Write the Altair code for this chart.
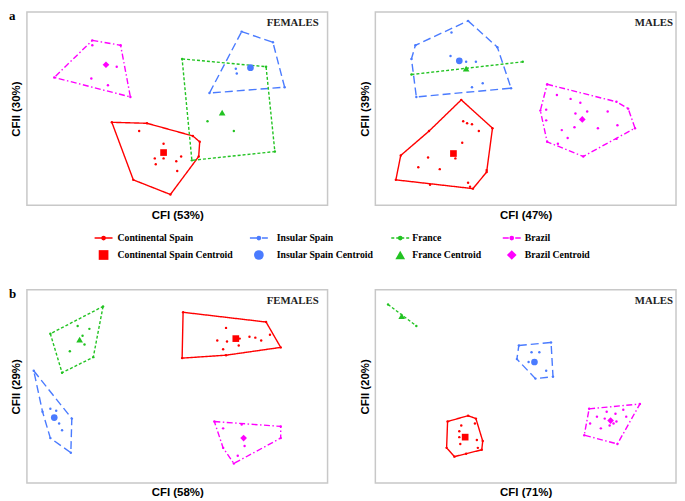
import altair as alt
import pandas as pd

GROUPS = ["Continental Spain", "Insular Spain", "France", "Brazil"]
COLORS = ["#ff0000", "#4a7bff", "#22c322", "#ff00ff"]
DASHES = [[1, 0], [8, 4], [3, 2], [6, 2.5, 1.5, 2.5]]
SHAPES = ["square", "circle", "triangle-up", "diamond"]

# ---- Panel a, FEMALES (CFI 53%, CFII 30%) ----
AF_CS_HULL = [(87, 113), (123, 114), (170, 127), (177, 133), (176, 148), (147, 187), (109, 172)]
AF_CS_PTS = [(115, 122), (140, 135), (158, 148), (131, 150), (140, 150), (153, 153), (132, 156), (154, 163)]
AF_CS_CEN = (140, 144)
AF_IS_HULL = [(220, 20), (252, 31), (264, 77), (187, 83)]
AF_IS_PTS = [(214, 58), (215, 63)]
AF_IS_CEN = (229, 57)
AF_FR_HULL = [(159, 48), (245, 56), (254, 143), (169, 152)]
AF_FR_PTS = [(185, 112), (212, 122)]
AF_FR_CEN = (200, 103)
AF_BR_HULL = [(67, 29), (96, 34), (106, 87), (28, 67)]
AF_BR_PTS = [(67, 34), (92, 56), (66, 68), (83, 75)]
AF_BR_CEN = (81, 54)

# ---- Panel a, MALES (CFI 47%, CFII 39%) ----
AM_CS_HULL = [(88, 90), (120, 119), (114, 164), (100, 181), (21, 172), (26, 147), (55, 122)]
AM_CS_PTS = [(90, 112), (94, 114), (99, 115), (106, 122), (89, 134), (54, 149), (82, 150), (44, 159),
             (66, 161), (95, 175), (97, 179), (56, 177), (114, 162)]
AM_CS_CEN = (80, 145)
AM_IS_HULL = [(95, 9), (125, 36), (139, 78), (42, 87), (37, 48), (41, 34)]
AM_IS_PTS = [(78, 21), (77, 45), (93, 51), (103, 51), (110, 73), (99, 77)]
AM_IS_CEN = (86, 50)
AM_FR_HULL = [(37, 64), (151, 51)]
AM_FR_PTS = []
AM_FR_CEN = (93, 58)
AM_BR_HULL = [(176, 74), (247, 92), (259, 99), (266, 119), (213, 148), (176, 133), (169, 101)]
AM_BR_PTS = [(186, 85), (200, 89), (210, 93), (205, 104), (217, 102), (238, 102), (175, 100), (175, 111),
             (204, 118), (191, 121), (228, 119), (248, 116), (197, 129), (187, 135), (247, 130)]
AM_BR_CEN = (212, 110)

# ---- Panel b, FEMALES (CFI 58%, CFII 29%) ----
BF_CS_HULL = [(160, 23), (245, 33), (260, 59), (204, 67), (159, 70)]
BF_CS_PTS = [(204, 39), (195, 52), (205, 53), (217, 57), (201, 61), (228, 48), (234, 49), (240, 52),
             (249, 46), (218, 50)]
BF_CS_CEN = (214, 50)
BF_IS_HULL = [(7, 83), (46, 132), (45, 167), (24, 152), (16, 125)]
BF_IS_PTS = [(24, 122), (30, 124), (33, 137), (36, 144)]
BF_IS_CEN = (28, 131)
BF_FR_HULL = [(78, 17), (68, 69), (36, 85), (24, 45)]
BF_FR_PTS = [(52, 37), (64, 40), (57, 47), (59, 56), (44, 63)]
BF_FR_CEN = (54, 51)
BF_BR_HULL = [(192, 135), (260, 140), (260, 152), (212, 178), (201, 162)]
BF_BR_PTS = [(201, 142), (220, 138), (223, 160), (216, 170)]
BF_BR_CEN = (222, 152)

# ---- Panel b, MALES (CFI 71%, CFII 20%) ----
BM_CS_HULL = [(74, 135), (95, 129), (103, 132), (110, 155), (109, 164), (81, 171), (73, 162)]
BM_CS_PTS = [(88, 139), (86, 145), (86, 151), (102, 137), (104, 154), (87, 158), (105, 162), (93, 168)]
BM_CS_CEN = (92, 151)
BM_IS_HULL = [(147, 57), (180, 54), (182, 89), (164, 91), (145, 71)]
BM_IS_PTS = [(160, 64), (168, 64), (157, 74), (175, 83)]
BM_IS_CEN = (163, 74)
BM_FR_HULL = [(13, 15), (42, 37)]
BM_FR_PTS = []
BM_FR_CEN = (27, 27)
BM_BR_HULL = [(219, 122), (271, 117), (248, 158), (214, 149)]
BM_BR_PTS = [(227, 130), (237, 125), (246, 127), (254, 123), (257, 130), (235, 132), (247, 135),
             (244, 137), (240, 139), (231, 142), (220, 137)]
BM_BR_CEN = (241, 134)

LEGEND_LINE_LABELS = GROUPS
LEGEND_CEN_LABELS = [g + " Centroid" for g in GROUPS]

# ---- layout constants ----
PW, PH = 302, 194
SANS = "Liberation Sans"
SERIF = "Liberation Serif"

color_enc = alt.Color("group:N", scale=alt.Scale(domain=GROUPS, range=COLORS), legend=None)
dash_enc = alt.StrokeDash("group:N", scale=alt.Scale(domain=GROUPS, range=DASHES), legend=None)
shape_enc = alt.Shape("group:N", scale=alt.Scale(domain=GROUPS, range=SHAPES), legend=None)


def build_frames(groups):
    hull_rows, pt_rows, cen_rows = [], [], []
    for g, (hull, pts, cen) in zip(GROUPS, groups):
        verts = list(hull) + ([hull[0]] if len(hull) > 2 else [])
        for i, (x, y) in enumerate(verts):
            hull_rows.append({"group": g, "order": i, "x": x, "y": y})
        for x, y in list(hull) + list(pts):
            pt_rows.append({"group": g, "x": x, "y": y})
        cen_rows.append({"group": g, "x": cen[0], "y": cen[1]})
    return pd.DataFrame(hull_rows), pd.DataFrame(pt_rows), pd.DataFrame(cen_rows)


def panel(groups, xtitle, ytitle, sex, letter=None):
    hull_df, pts_df, cen_df = build_frames(groups)
    xs = alt.Scale(domain=[0, 308], nice=False, zero=False)
    ys = alt.Scale(domain=[0, 198], nice=False, zero=False, reverse=True)
    ax_common = dict(labels=False, ticks=False, domain=False, grid=False,
                     titleFont=SANS, titleFontSize=11.5, titleFontWeight="bold", titleColor="black")
    xenc = alt.X("x:Q", scale=xs, axis=alt.Axis(title=xtitle, titlePadding=4, **ax_common))
    yenc = alt.Y("y:Q", scale=ys, axis=alt.Axis(title=ytitle, titlePadding=5, **ax_common))

    hull = alt.Chart(hull_df).mark_line(strokeWidth=1.4).encode(
        x=xenc, y=yenc, color=color_enc, strokeDash=dash_enc, detail="group:N", order="order:Q")
    pts = alt.Chart(pts_df).mark_circle(size=6, opacity=1).encode(x=xenc, y=yenc, color=color_enc)
    cen = alt.Chart(cen_df).mark_point(filled=True, size=45, opacity=1).encode(
        x=xenc, y=yenc, color=color_enc, shape=shape_enc)
    title = alt.Chart(pd.DataFrame({"t": [sex]})).mark_text(
        font=SERIF, fontSize=10.8, fontWeight="bold", align="right", baseline="middle", color="#222222"
    ).encode(x=alt.value(PW - (9 if sex == "FEMALES" else 3)), y=alt.value(11), text="t:N")
    layers = [hull, pts, cen, title]
    if letter:
        lt = alt.Chart(pd.DataFrame({"t": [letter]})).mark_text(
            font=SERIF, fontSize=13, fontWeight="bold", align="left", baseline="top", color="black"
        ).encode(x=alt.value(-18), y=alt.value(-2), text="t:N")
        layers.append(lt)
    return alt.layer(*layers).properties(width=PW, height=PH)


pAF = panel([(AF_CS_HULL, AF_CS_PTS, AF_CS_CEN), (AF_IS_HULL, AF_IS_PTS, AF_IS_CEN),
             (AF_FR_HULL, AF_FR_PTS, AF_FR_CEN), (AF_BR_HULL, AF_BR_PTS, AF_BR_CEN)],
            "CFI (53%)", "CFII (30%)", "FEMALES", "a")
pAM = panel([(AM_CS_HULL, AM_CS_PTS, AM_CS_CEN), (AM_IS_HULL, AM_IS_PTS, AM_IS_CEN),
             (AM_FR_HULL, AM_FR_PTS, AM_FR_CEN), (AM_BR_HULL, AM_BR_PTS, AM_BR_CEN)],
            "CFI (47%)", "CFII (39%)", "MALES")
pBF = panel([(BF_CS_HULL, BF_CS_PTS, BF_CS_CEN), (BF_IS_HULL, BF_IS_PTS, BF_IS_CEN),
             (BF_FR_HULL, BF_FR_PTS, BF_FR_CEN), (BF_BR_HULL, BF_BR_PTS, BF_BR_CEN)],
            "CFI (58%)", "CFII (29%)", "FEMALES", "b")
pBM = panel([(BM_CS_HULL, BM_CS_PTS, BM_CS_CEN), (BM_IS_HULL, BM_IS_PTS, BM_IS_CEN),
             (BM_FR_HULL, BM_FR_PTS, BM_FR_CEN), (BM_BR_HULL, BM_BR_PTS, BM_BR_CEN)],
            "CFI (71%)", "CFII (20%)", "MALES")

# ---- legend chart (its origin is aligned with the left panels' plot area) ----
LW, LH = 600, 55
LEG_SYM_X = [77, 233, 375, 487]
LEG_TXT_X = [91, 251, 387, 500]
leg_rows = []
for r, labels in enumerate([LEGEND_LINE_LABELS, LEGEND_CEN_LABELS]):
    for i, g in enumerate(GROUPS):
        leg_rows.append({"group": g, "row": r, "xs": LEG_SYM_X[i], "x0": LEG_SYM_X[i] - 9,
                         "x1": LEG_SYM_X[i] + 9, "xt": LEG_TXT_X[i], "label": labels[i]})
leg_df = pd.DataFrame(leg_rows)
lxs = alt.Scale(domain=[0, LW], nice=False, zero=False)
lys = alt.Scale(domain=[-11 / 17, -11 / 17 + LH / 17], nice=False, zero=False, reverse=True)
lx = lambda f: alt.X(f, scale=lxs, axis=None)
ly = alt.Y("row:Q", scale=lys, axis=None)
lbase = alt.Chart(leg_df)
l_line = lbase.transform_filter("datum.row == 0").mark_rule(strokeWidth=1.5).encode(
    x=lx("x0:Q"), x2="x1:Q", y=ly, color=color_enc, strokeDash=dash_enc)
l_dot = lbase.transform_filter("datum.row == 0").mark_circle(size=22, opacity=1).encode(
    x=lx("xs:Q"), y=ly, color=color_enc)
l_cen = lbase.transform_filter("datum.row == 1").mark_point(filled=True, size=95, opacity=1).encode(
    x=lx("xs:Q"), y=ly, color=color_enc, shape=shape_enc)
l_txt = lbase.mark_text(font=SERIF, fontSize=9.8, fontWeight="bold", align="left",
                        baseline="middle", color="black").encode(x=lx("xt:Q"), y=ly, text="label:N")
legend = alt.layer(l_line, l_dot, l_cen, l_txt).properties(
    width=LW, height=LH, view=alt.ViewBackground(stroke="transparent"))

rowA = alt.hconcat(pAF, pAM, spacing=30)
rowB = alt.hconcat(pBF, pBM, spacing=30)

chart = alt.vconcat(rowA, legend, rowB, spacing=4).properties(
    padding=0, background="white"
).configure_view(stroke="#c8c8c8", strokeWidth=1.5)

chart.save("out.html", embed_options={"renderer": "svg", "actions": False})
